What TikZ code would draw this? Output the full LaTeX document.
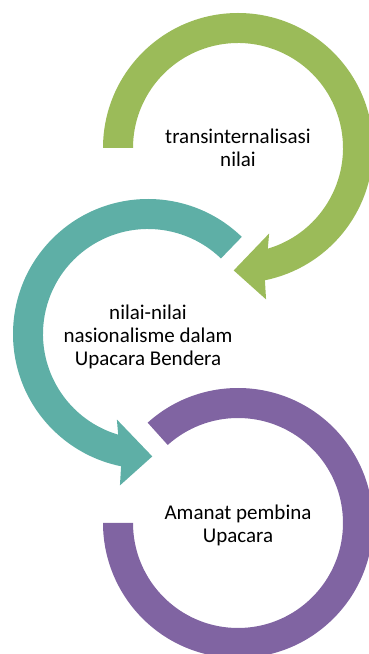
\documentclass[tikz,border=0pt]{standalone}
\usepackage{fontspec}
\setmainfont{Carlito}
\definecolor{ringgreen}{HTML}{9BBB59}
\definecolor{ringteal}{HTML}{5EAFA6}
\definecolor{ringpurple}{HTML}{8064A2}
\begin{document}
\begin{tikzpicture}[x=1pt,y=1pt,
    ring/.style={draw=none},
    ringtext/.style={align=center,font=\fontsize{21}{23}\selectfont}]
  \useasboundingbox (0,0) rectangle (369,654);

  \def\ri{105}% inner radius
  \def\ro{135}% outer radius
  \def\rm{122.5}% radius of the tip
  \def\rbi{91}% inner barb
  \def\rbo{154}% outer barb
  %
  % centres:
  \coordinate (cgreen) at (238,506);
  \coordinate (cteal) at (148,320);
  \coordinate (cpurple) at (238,131);

  % first arrow, clockwise from the left
  \begin{scope}[shift={(cgreen)}]
    \fill[ring,ringgreen] (180:\ro) arc[start angle=180,end angle=-78.5,radius=\ro]
      -- (-79.5:\rbo) -- (-92:\rm) -- (-70:\rbi) -- (-73.5:\ri)
      arc[start angle=-73.5,end angle=180,radius=\ri] -- cycle;
  \end{scope}

  % second arrow, counterclockwise
  \begin{scope}[shift={(cteal)}]
    \fill[ring,ringteal] (46:\ro) arc[start angle=46,end angle=258.5,radius=\ro]
      -- (259.5:\rbo) -- (272:\rm) -- (250:\rbi) -- (253.5:\ri)
      arc[start angle=253.5,end angle=46,radius=\ri] -- cycle;
  \end{scope}

  % last ring, no tip
  \begin{scope}[shift={(cpurple)}]
    \fill[ring,ringpurple] (132:\ro) arc[start angle=132,end angle=-180,radius=\ro]
      -- (-180:\ri) arc[start angle=-180,end angle=132,radius=\ri] -- cycle;
  \end{scope}

  \node[ringtext] (transinternalisasi) at (cgreen) {transinternalisasi\\nilai};
  \node[ringtext] (nasionalisme) at ([yshift=-3]cteal) {nilai-nilai\\nasionalisme dalam\\Upacara Bendera};
  \node[ringtext] (amanat) at ([yshift=-2]cpurple) {Amanat pembina\\Upacara};
\end{tikzpicture}
\end{document}
